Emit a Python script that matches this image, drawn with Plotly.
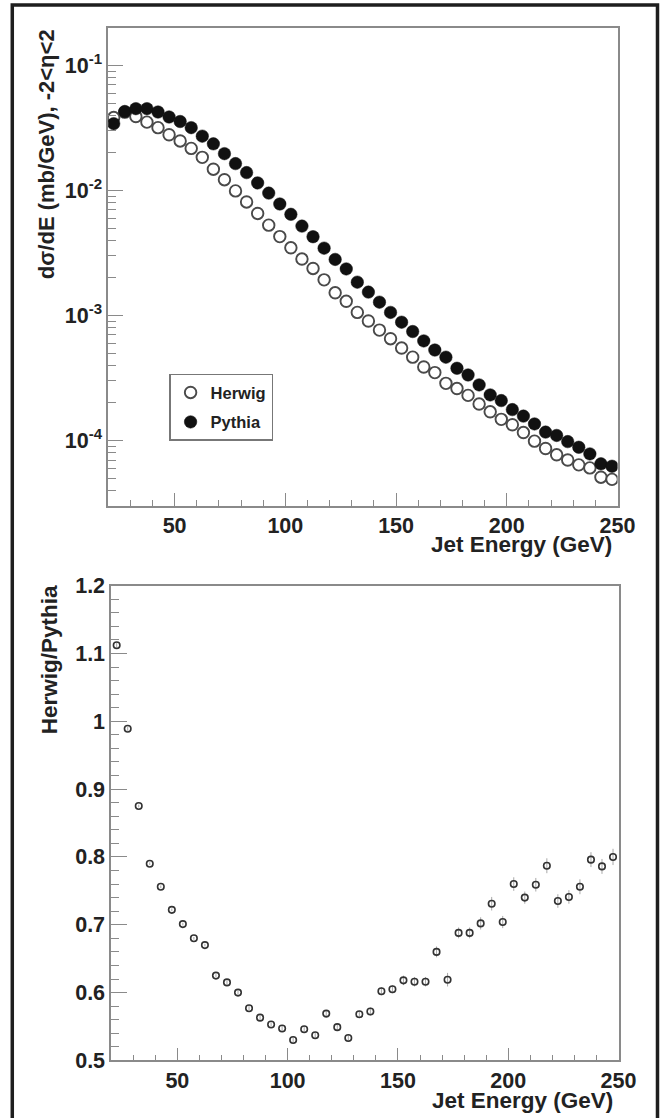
import plotly.graph_objects as go

# ---------------- data ----------------
energy = [22.5, 27.5, 32.5, 37.5, 42.5, 47.5, 52.5, 57.5, 62.5, 67.5,
          72.5, 77.5, 82.5, 87.5, 92.5, 97.5, 102.5, 107.5, 112.5, 117.5,
          122.5, 127.5, 132.5, 137.5, 142.5, 147.5, 152.5, 157.5, 162.5, 167.5,
          172.5, 177.5, 182.5, 187.5, 192.5, 197.5, 202.5, 207.5, 212.5, 217.5,
          222.5, 227.5, 232.5, 237.5, 242.5, 247.5]

pythia = [0.0342, 0.0428, 0.0451, 0.0451, 0.0424, 0.0387, 0.0356, 0.0318, 0.0272, 0.0236,
          0.0197, 0.0164, 0.0139, 0.0115, 0.00953, 0.00780, 0.00645, 0.00519, 0.00427, 0.00346,
          0.00281, 0.00236, 0.00185, 0.00154, 0.00128, 0.00106, 0.000885, 0.000745, 0.000627, 0.000530,
          0.000465, 0.000379, 0.000335, 0.000279, 0.000232, 0.000209, 0.000177, 0.000157, 0.000136, 0.000117,
          0.000110, 0.0000982, 0.0000885, 0.0000783, 0.0000652, 0.0000624]

herwig = [0.0383, 0.0423, 0.0390, 0.0352, 0.0318, 0.0279, 0.0249, 0.0217, 0.0184, 0.0148,
          0.0122, 0.00992, 0.00810, 0.00655, 0.00528, 0.00428, 0.00348, 0.00283, 0.00238, 0.00193,
          0.00152, 0.00130, 0.00106, 0.000905, 0.000765, 0.000653, 0.000550, 0.000465, 0.000388, 0.000350,
          0.000287, 0.000261, 0.000230, 0.000196, 0.000170, 0.000148, 0.000134, 0.000116, 0.0000990, 0.0000865,
          0.0000770, 0.0000700, 0.0000640, 0.0000605, 0.0000510, 0.0000490]

ratio = [1.112, 0.989, 0.875, 0.790, 0.756, 0.722, 0.701, 0.680, 0.670, 0.625,
         0.615, 0.600, 0.577, 0.563, 0.553, 0.547, 0.530, 0.546, 0.537, 0.569,
         0.549, 0.533, 0.568, 0.572, 0.602, 0.605, 0.618, 0.616, 0.616, 0.660,
         0.619, 0.688, 0.688, 0.702, 0.731, 0.704, 0.760, 0.740, 0.759, 0.787,
         0.735, 0.741, 0.756, 0.796, 0.786, 0.800]

ratio_err = [0.004, 0.003, 0.002, 0.002, 0.002, 0.002, 0.002, 0.002, 0.002, 0.002,
             0.003, 0.003, 0.003, 0.003, 0.003, 0.004, 0.004, 0.004, 0.004, 0.005,
             0.005, 0.005, 0.005, 0.006, 0.006, 0.006, 0.007, 0.007, 0.007, 0.008,
             0.010, 0.008, 0.008, 0.009, 0.010, 0.009, 0.010, 0.009, 0.010, 0.011,
             0.010, 0.010, 0.011, 0.011, 0.011, 0.012]

x_ticks = [50, 100, 150, 200, 250]
x_tick_labels = ["50", "100", "150", "200", "250"]
y_log_ticks = [1e-4, 1e-3, 1e-2, 1e-1]
y_log_labels = ["10<sup>-4</sup>", "10<sup>-3</sup>", "10<sup>-2</sup>", "10<sup>-1</sup>"]
y_ratio_ticks = [0.5, 0.6, 0.7, 0.8, 0.9, 1.0, 1.1, 1.2]
y_ratio_labels = ["0.5", "0.6", "0.7", "0.8", "0.9", "1", "1.1", "1.2"]

# ---------------- styling ----------------
W, H = 662, 1118
FONT = "Liberation Sans, Arial, Helvetica, sans-serif"
TXT = "#222222"
AX = "#8a8a8a"

# target pixel positions (as seen in the final picture) -> paper fractions
SX, OX = 0.974, -1.3
SY, OY = 0.979, 12.1

def fx(t):
    return ((t - OX) / SX) / W

def fy(t):
    return 1 - ((t - OY) / SY) / H

log_minor = [m * 10 ** e for e in range(-5, 0) for m in range(2, 10)]

fig = go.Figure()

fig.add_trace(go.Scatter(
    x=energy, y=herwig, mode="markers", name="Herwig", legendgroup="h",
    marker=dict(symbol="circle", size=11.5, color="white",
                line=dict(color="#4a4a4a", width=1.9)),
    xaxis="x", yaxis="y"))
fig.add_trace(go.Scatter(
    x=energy, y=pythia, mode="markers", name="Pythia", legendgroup="p",
    marker=dict(symbol="circle", size=12.5, color="#111111",
                line=dict(color="#111111", width=0.5)),
    xaxis="x", yaxis="y"))
fig.add_trace(go.Scatter(
    x=energy, y=ratio, mode="markers", showlegend=False,
    error_y=dict(type="data", array=ratio_err, color="#a8a8a8", thickness=1, width=0),
    marker=dict(symbol="circle-open", size=6.5, color="#333333",
                line=dict(color="#333333", width=1.6)),
    xaxis="x2", yaxis="y2"))

common_axis = dict(
    showline=True, linecolor=AX, linewidth=1.6, mirror=True,
    ticks="inside", tickcolor=AX, tickwidth=1.2,
    showgrid=False, zeroline=False,
    tickfont=dict(family=FONT, size=21.5, color=TXT, weight="bold"),
)

fig.update_layout(
    width=W, height=H,
    margin=dict(l=0, r=0, t=0, b=0),
    paper_bgcolor="white", plot_bgcolor="white",
    showlegend=True,
    legend=dict(x=fx(168), y=fy(375), xanchor="left", yanchor="top",
                bgcolor="white", bordercolor="#777777", borderwidth=1.5,
                font=dict(family=FONT, size=16.5, color=TXT, weight="bold"),
                itemwidth=30, tracegroupgap=5),
    xaxis=dict(domain=[fx(107), fx(617)], anchor="y", range=[20, 250],
               tickmode="array", tickvals=x_ticks, ticktext=x_tick_labels, ticklen=13,
               minor=dict(ticks="inside", dtick=10, tick0=0, ticklen=6, tickcolor=AX, tickwidth=1.2),
               **common_axis),
    yaxis=dict(domain=[fy(507), fy(29)], anchor="x", type="log", range=[-4.52, -0.70],
               tickmode="array", tickvals=y_log_ticks, ticktext=y_log_labels, ticklen=15,
               minor=dict(ticks="inside", tickmode="array", tickvals=log_minor, ticklen=8,
                          tickcolor=AX, tickwidth=1.2),
               **common_axis),
    xaxis2=dict(domain=[fx(110), fx(618)], anchor="y2", range=[20, 250],
                tickmode="array", tickvals=x_ticks, ticktext=x_tick_labels, ticklen=13,
                minor=dict(ticks="inside", dtick=10, tick0=0, ticklen=6, tickcolor=AX, tickwidth=1.2),
                **common_axis),
    yaxis2=dict(domain=[fy(1062), fy(587)], anchor="x2", range=[0.5, 1.2],
                tickmode="array", tickvals=y_ratio_ticks, ticktext=y_ratio_labels, ticklen=16,
                minor=dict(ticks="inside", dtick=0.02, tick0=0.5, ticklen=8, tickcolor=AX, tickwidth=1.2),
                **common_axis),
)

title_font = dict(family=FONT, size=22.5, color=TXT, weight="bold")
ytitle_font = dict(family=FONT, size=22, color=TXT, weight="bold")
annotations = [
    dict(text="Jet Energy (GeV)", x=fx(613), y=fy(546), xref="paper", yref="paper",
         xanchor="right", yanchor="middle", showarrow=False, font=title_font),
    dict(text="Jet Energy (GeV)", x=fx(614), y=fy(1102), xref="paper", yref="paper",
         xanchor="right", yanchor="middle", showarrow=False, font=title_font),
    dict(text="dσ/dE (mb/GeV), -2<η<2", x=fx(46), y=fy(28), xref="paper", yref="paper",
         xanchor="center", yanchor="top", textangle=-90, showarrow=False, font=ytitle_font),
    dict(text="Herwig/Pythia", x=fx(48), y=fy(585), xref="paper", yref="paper",
         xanchor="center", yanchor="top", textangle=-90, showarrow=False, font=title_font),
]
fig.update_layout(annotations=annotations)

fig.add_shape(type="rect", xref="paper", yref="paper",
              x0=fx(11), x1=fx(657), y0=fy(1122), y1=fy(6),
              line=dict(color="#1e1e1e", width=3.5), fillcolor="rgba(0,0,0,0)", layer="above")

fig.write_html("out.html")
